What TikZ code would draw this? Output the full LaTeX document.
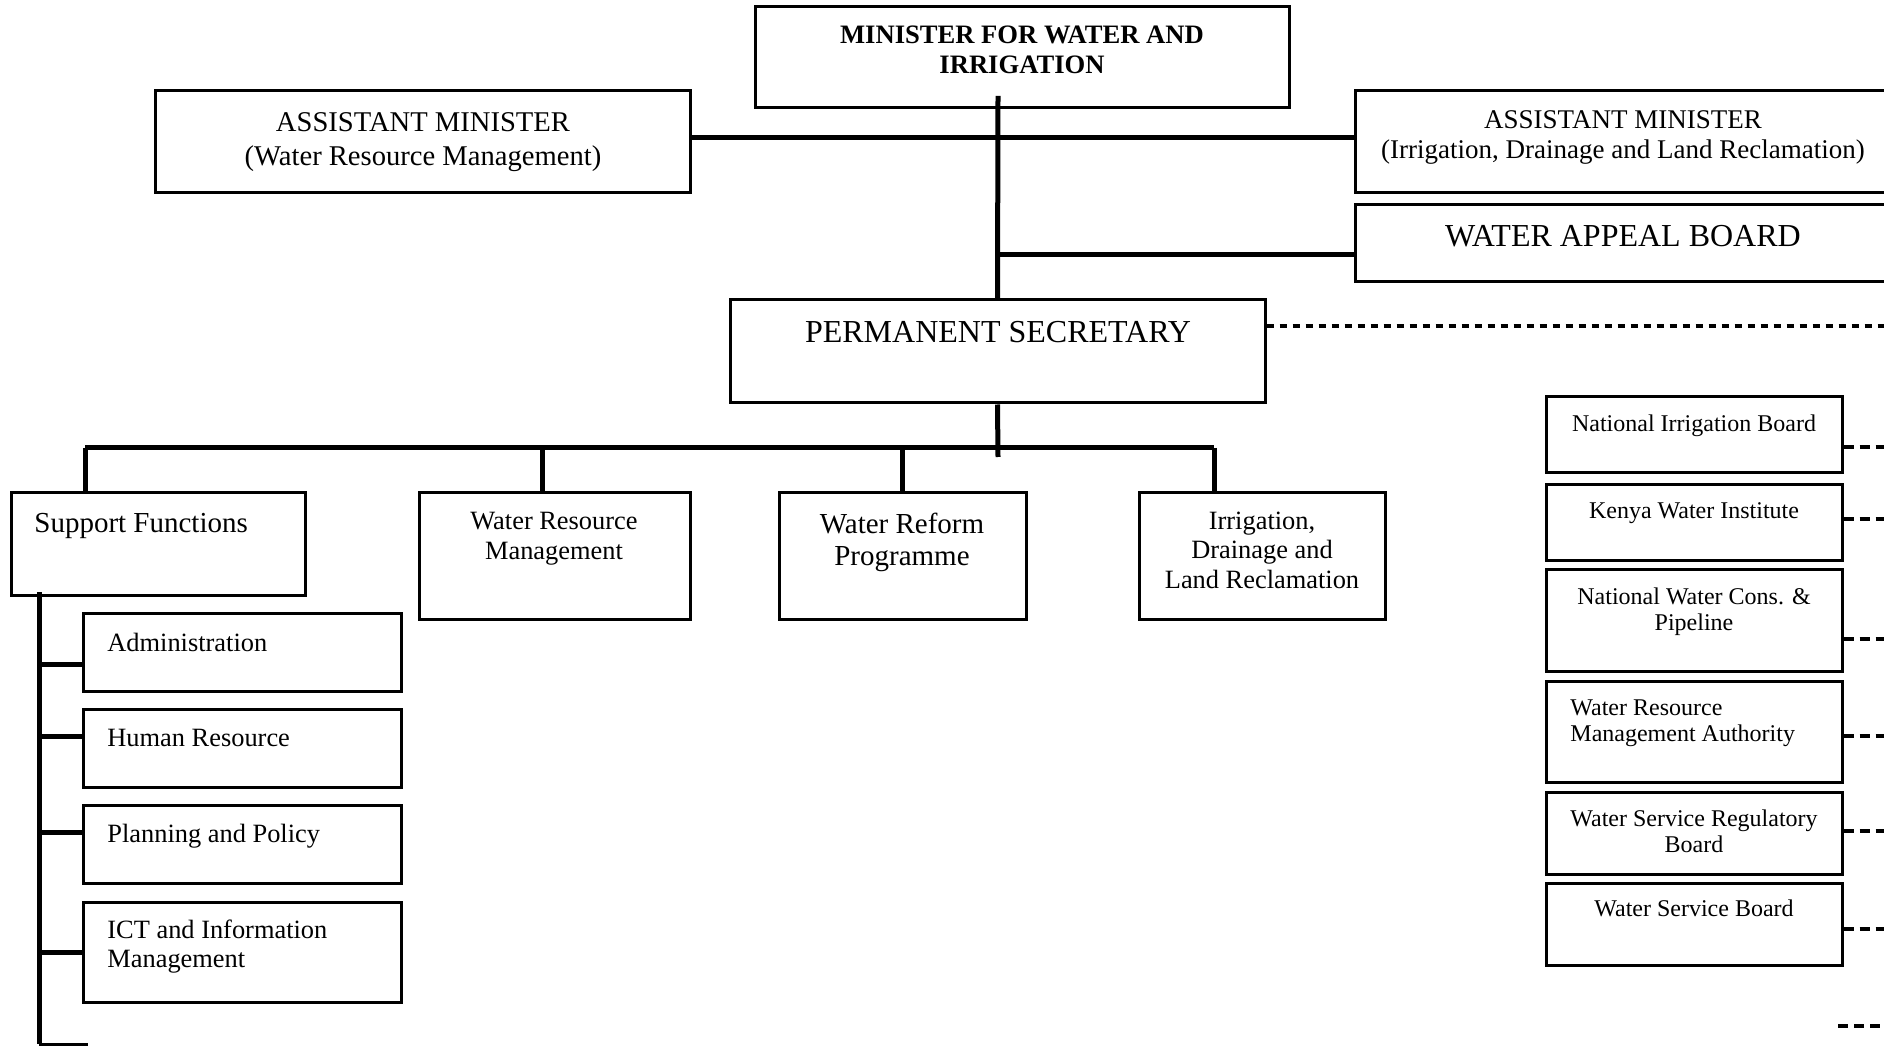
\documentclass[tikz,border=0pt]{standalone}
\usepackage{fontspec}
\setmainfont{Liberation Serif}
\usetikzlibrary{fit}
\begin{document}
\begin{tikzpicture}[x=0.5pt,y=-0.5pt,
  box/.style={draw, line width=1.5pt, inner sep=0pt},
  conn/.style={line width=2.5pt},
  thin/.style={line width=1.5pt},
  dotl/.style={line width=2.4pt, dash pattern=on 3.5pt off 3pt},
  dashl/.style={line width=2.4pt, dash pattern=on 5pt off 3pt},
  txt/.style={inner sep=0pt, align=center},
  ltxt/.style={inner sep=0pt, align=left, anchor=west}]
\useasboundingbox (0,0) rectangle (1884,1047);
\clip (0,0) rectangle (1884,1047);

% ---- boxes ----
\node[box, fit={(755,7) (1289,108)}] (min) {};
\node[box, fit={(155,91) (690,193)}] (am1) {};
\node[box, fit={(1355,91) (1910,193)}] (am2) {};
\node[box, fit={(1355,205) (1910,282)}] (wab) {};
\node[box, fit={(730,300) (1265,403)}] (ps) {};
\node[box, fit={(11,493) (305,595)}] (sf) {};
\node[box, fit={(419,493) (690,619)}] (wrm) {};
\node[box, fit={(779,493) (1026,619)}] (wrp) {};
\node[box, fit={(1139,493) (1385,619)}] (idl) {};
\node[box, fit={(83,613) (401,691)}] (adm) {};
\node[box, fit={(83,709) (401,787)}] (hr) {};
\node[box, fit={(83,805) (401,883)}] (pp) {};
\node[box, fit={(83,902) (401,1002)}] (ict) {};
\node[box, fit={(1546,397) (1842,473)}] (nib) {};
\node[box, fit={(1546,485) (1842,561)}] (kwi) {};
\node[box, fit={(1546,570) (1842,671)}] (nwc) {};
\node[box, fit={(1546,681) (1842,782)}] (wra) {};
\node[box, fit={(1546,792) (1842,874)}] (wsr) {};
\node[box, fit={(1546,883) (1842,965)}] (wsb) {};

% ---- texts ----
\node[txt, font=\bfseries\fontsize{13.3pt}{15pt}\selectfont] at (1022,50) {MINISTER FOR WATER AND\\IRRIGATION};
\node[txt, font=\fontsize{14.3pt}{17pt}\selectfont] at (423,142) {ASSISTANT MINISTER\\(Water Resource Management)};
\node[txt, font=\fontsize{13.5pt}{15pt}\selectfont] at (1623,137) {ASSISTANT MINISTER\\(Irrigation, Drainage and Land Reclamation)};
\node[txt, font=\fontsize{16pt}{18pt}\selectfont] at (1623,236) {WATER APPEAL BOARD};
\node[txt, font=\fontsize{16pt}{18pt}\selectfont] at (998,332) {PERMANENT SECRETARY};
\node[ltxt, font=\fontsize{14.5pt}{17pt}\selectfont] at (34,526) {Support Functions};
\node[txt, font=\fontsize{13.2pt}{15pt}\selectfont] at (554,539) {Water Resource\\Management};
\node[txt, font=\fontsize{14.5pt}{16pt}\selectfont] at (902,542) {Water Reform\\Programme};
\node[txt, font=\fontsize{13.2pt}{14.8pt}\selectfont] at (1262,550) {Irrigation,\\Drainage and\\Land Reclamation};
\node[ltxt, font=\fontsize{13.2pt}{15pt}\selectfont] at (107,642) {Administration};
\node[ltxt, font=\fontsize{13.2pt}{15pt}\selectfont] at (107,738) {Human Resource};
\node[ltxt, font=\fontsize{13.2pt}{15pt}\selectfont] at (107,836) {Planning and Policy};
\node[ltxt, font=\fontsize{13.2pt}{14.5pt}\selectfont] at (107,947) {ICT and Information\\Management};
\node[txt, font=\fontsize{12pt}{13pt}\selectfont] at (1694,426) {National Irrigation Board};
\node[txt, font=\fontsize{12pt}{13pt}\selectfont] at (1694,513) {Kenya Water Institute};
\node[txt, font=\fontsize{12pt}{13pt}\selectfont] at (1694,612) {National Water Cons. \&\\Pipeline};
\node[ltxt, font=\fontsize{12pt}{13pt}\selectfont] at (1570,723) {Water Resource\\Management Authority};
\node[txt, font=\fontsize{12pt}{13pt}\selectfont] at (1694,831) {Water Service Regulatory\\Board};
\node[txt, font=\fontsize{12pt}{13pt}\selectfont] at (1694,908) {Water Service Board};

% ---- connectors ----
\coordinate (mtop) at (998,96);
\draw[conn] (mtop) -- (ps.north);
\coordinate (ah) at (998,138);
\draw[conn] (ah -| am1.east) -- (ah -| am2.west);
\coordinate (wh) at (998,255);
\draw[conn] (wh) -- (wh -| wab.west);
\coordinate (dz) at (1884,326);
\draw[dotl] (dz -| ps.east) -- (dz);
\coordinate (pb) at (998,457);
\draw[conn] (ps.south) -- (pb);
\coordinate (b1) at (85,448);
\coordinate (b2) at (542,448);
\coordinate (b3) at (902,448);
\coordinate (b4) at (1214,448);
\draw[conn] (b1) -- (b4);
\draw[conn] (b1) -- (b1 |- sf.north);
\draw[conn] (b2) -- (b2 |- wrm.north);
\draw[conn] (b3) -- (b3 |- wrp.north);
\draw[conn] (b4) -- (b4 |- idl.north);
% support functions spine
\coordinate (s0) at (39,592);
\coordinate (s5) at (39,1044);
\draw[conn] (s0) -- (s5);
\coordinate (t1) at (39,664);
\coordinate (t2) at (39,736);
\coordinate (t3) at (39,832);
\coordinate (t4) at (39,952);
\draw[conn] (t1) -- (t1 -| adm.west);
\draw[conn] (t2) -- (t2 -| hr.west);
\draw[conn] (t3) -- (t3 -| pp.west);
\draw[conn] (t4) -- (t4 -| ict.west);
\coordinate (t5) at (88,1044);
\draw[thin] (s5) -- (t5);
% right dashed stubs
\coordinate (d1) at (1884,447);
\coordinate (d2) at (1884,519);
\coordinate (d3) at (1884,639);
\coordinate (d4) at (1884,736);
\coordinate (d5) at (1884,831);
\coordinate (d6) at (1884,929);
\draw[dashl] (d1 -| nib.east) -- (d1);
\draw[dashl] (d2 -| kwi.east) -- (d2);
\draw[dashl] (d3 -| nwc.east) -- (d3);
\draw[dashl] (d4 -| wra.east) -- (d4);
\draw[dashl] (d5 -| wsr.east) -- (d5);
\draw[dashl] (d6 -| wsb.east) -- (d6);
\coordinate (d7a) at (1838,1026);
\coordinate (d7) at (1884,1026);
\draw[dashl] (d7a) -- (d7);
\end{tikzpicture}
\end{document}
